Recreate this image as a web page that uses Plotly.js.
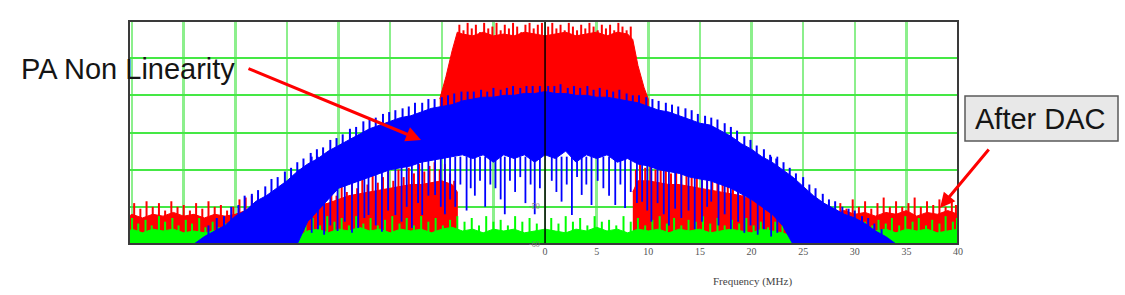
<!DOCTYPE html>
<html>
<head>
<meta charset="utf-8">
<script src="https://cdn.plot.ly/plotly-3.0.1.min.js"></script>
<style>html,body{margin:0;padding:0;background:#fff}#chart{width:1125px;height:295px}</style>
</head>
<body>
<div id="chart"></div>
<script>
// ---------- data (dB vs MHz) ----------
// Blue: PA output with non-linearity (body envelope + spikes)
const blueFreq = [-34,-33,-32,-31,-30,-29,-28,-27,-26,-25,-24,-23,-22,-21,-20,-19,-18,-17,-16,-15,-14,-13,-12,-11,-10,-9,-8,-7,-6,-5,-4,-3,-2,-1,0,1,2,3,4,5,6,7,8,9,10,11,12,13,14,15,16,17,18,19,20,21,22,23,24,25,26,27,28,29,30,31,32,33,34];
const blueUpper = [-60,-58,-56.5,-55,-52.5,-51,-48.5,-47,-45,-43,-40.5,-38.5,-37,-35,-33.5,-32,-30.5,-29,-28,-27,-26,-25.5,-24.5,-23.5,-23,-22.5,-21.5,-21,-20.5,-20.5,-20,-20,-19.5,-19.5,-19,-19.5,-19.5,-20,-20,-20.5,-20.5,-21,-21.5,-22,-23,-24,-24.5,-25.5,-26.5,-27.5,-28,-29.5,-31,-33,-34.5,-36.5,-38,-40,-42,-44.5,-47,-49,-50.5,-52,-53,-54.5,-56.5,-58,-60];
const blueLower = [-60,-60,-60,-60,-60,-60,-60,-60,-60,-60,-60,-54,-51,-48,-45,-44,-43,-42,-41,-40,-39.5,-39,-38,-37.5,-37,-36.5,-36,-37,-36,-38,-36,-37,-36,-38,-36,-37,-35,-38,-36,-37,-36,-38,-37,-38.5,-39,-40,-40.5,-41,-42,-42.5,-43,-44,-45,-46.5,-48,-50,-52,-55,-60,-60,-60,-60,-60,-60,-60,-60,-60,-60,-60];
const bluePeakFreq = [-32.6,-31.8,-31.1,-30.4,-29.7,-29.1,-28.4,-27.8,-27.1,-26.5,-25.9,-25.2,-24.6,-24.0,-23.4,-22.7,-22.1,-21.5,-20.8,-20.2,-19.6,-18.9,-18.3,-17.6,-17.0,-16.4,-15.7,-15.1,-14.5,-13.8,-13.2,-12.6,-11.9,-11.3,-10.7,-10.0,-9.4,-8.8,-8.1,-7.5,-6.9,-6.2,-5.6,-5.0,-4.3,-3.7,-3.1,-2.4,-1.8,-1.2,-0.5,
  0.3,0.9,1.5,2.2,2.8,3.4,4.1,4.7,5.3,6.0,6.6,7.2,7.9,8.5,9.1,9.8,10.4,11.0,11.7,12.3,12.9,13.6,14.2,14.8,15.5,16.1,16.7,17.4,18.0,18.6,19.3,19.9,20.5,21.2,21.8,22.4,23.1,23.7,24.3,25.0,25.6,26.2,26.9,27.5,28.1,28.8,29.4,30.0,30.7,31.3,31.9,32.6];
const bluePeakLevel = [-55,-53,-52.5,-50,-49.5,-47,-46.5,-45.5,-44.5,-42.5,-42,-40.5,-39.5,-38,-37,-35.5,-34.5,-34,-32,-31.5,-30.5,-29,-28.5,-27,-26.5,-26,-25,-24.5,-24,-23.5,-23,-22,-22,-21,-21,-20.5,-20,-19.5,-19,-19,-19,-18.5,-19,-18,-18.5,-18,-17.5,-18,-17.5,-17.5,-17.5,
  -17.5,-17.5,-17,-18,-17.5,-18,-17.5,-18.5,-18,-18.5,-19,-18.5,-19.5,-20,-20,-20.5,-21,-21.5,-22,-22.5,-23,-23.5,-24,-25,-25.5,-26,-26.5,-27.5,-28.5,-29.5,-31,-32,-33.5,-34.5,-36,-37,-38,-39.5,-41,-42,-44,-45,-46.5,-48,-48.5,-50,-50.5,-51,-52.5,-53,-54.5,-56];
const blueDipFreq = [-22.6,-22.0,-21.4,-20.8,-20.1,-19.4,-18.7,-18.1,-17.5,-17.1,-16.4,-15.8,-15.2,-14.5,-13.9,-13.4,-12.9,-12.3,-11.9,-11.3,-10.65,-10.1,-9.7,-9.2,
  -8.7,-8.2,-7.6,-7.2,-6.8,-6.3,-5.8,-5.3,-4.8,-4.3,-3.9,-3.4,-2.9,-2.4,-1.9,-1.4,-1.0,-0.5,0.65,1.1,1.6,2.1,2.6,3.1,3.55,4.0,4.5,5.1,5.65,6.2,6.8,7.3,7.75,8.3,
  8.9,9.4,9.9,10.3,10.9,11.5,12.0,12.6,13.2,13.9,14.5,15.2,15.7,16.1,16.8,17.4,18.0,18.7,19.3,19.9,20.6,21.2,21.9,22.5];
const blueDipLevel = [-57,-56,-57.5,-55,-56.5,-54,-57,-55.7,-53,-52.2,-55,-56.7,-51,-52.2,-54,-50,-55.7,-49,-52.2,-47,-46.8,-50,-52,-48,
  -50,-44,-51,-45,-47,-43,-50,-44,-45,-48,-52,-43,-46,-42,-49,-44,-52,-45,-43,-46,-48.6,-44,-52.2,-42,-46.8,-44,-49.5,-43,-45,-47,-49.5,-44,-50.3,-46,
  -49,-48.6,-51,-54,-49,-52,-55,-50.5,-53,-51,-56,-54,-50,-48.6,-55,-52,-56,-54,-57,-55,-57.5,-56,-58,-57];

// Red: signal after DAC (in-band block, out-of-band floor, spikes)
const redInFreq = [-10.2,-9.6,-9.0,-8.5,-8,-7,-6,-5,-4,-3,-2,-1,0,1,2,3,4,5,6,7,8,8.5,9.0,9.6,10.0];
const redInUpper = [-21,-15,-8,-3,-3.5,-4,-3,-4,-3.5,-4,-3,-3.5,-4,-3.5,-3,-4,-3.5,-3,-4,-3,-3.5,-5,-12,-18,-21];
const redInLower = [-30,-30,-30,-30,-30,-30,-30,-30,-30,-30,-30,-30,-30,-30,-30,-30,-30,-30,-30,-30,-30,-30,-30,-30,-30];
const redPeakFreq = [-8.3,-7.9,-7.5,-7.1,-6.7,-6.3,-5.9,-5.5,-5.1,-4.7,-4.3,-3.9,-3.5,-3.1,-2.7,-2.3,-1.9,-1.5,-1.1,-0.7,-0.3,0.3,0.7,1.1,1.5,1.9,2.3,2.7,3.1,3.5,3.9,4.3,4.7,5.1,5.5,5.9,6.3,6.7,7.1,7.5,7.9,8.3];
const redPeakLevel = [-1,-2.5,-0.5,-2,-1,-3,-0.5,-2,-1.5,-0.5,-2.5,-1,-2,-0.5,-1.5,-3,-1,-0.5,-2,-1,-0.5,-1.5,-0.5,-2,-1,-2.5,-0.5,-1.5,-2.5,-1,-2,-0.5,-1.5,-2.5,-1,-2,-1,-2.5,-0.5,-1.5,-2.5,-1.5];
const redLeftFreq = [-40.3,-40,-39,-38,-37,-36,-35,-34,-33,-32,-31,-30,-29,-28,-27,-26,-25,-24,-23,-22,-21,-20,-19,-18,-17,-16,-15,-14,-13,-12,-11,-10,-9,-8.5];
const redLeftUpper = [-52.5,-52,-53,-52,-52.5,-51.5,-52.5,-52,-53,-52,-52.5,-52,-51,-50.5,-52,-53,-53,-53,-52,-50,-49,-48,-47,-46.5,-46,-45.5,-45,-44.5,-44,-44,-43.5,-43,-44,-46];
const redRightFreq = [8.5,9,10,11,12,13,14,15,16,17,18,19,20,21,22,23,24,25,26,27,28,29,30,31,32,33,34,35,36,37,38,39,40];
const redRightUpper = [-46,-43,-43,-43.5,-44,-44,-44.5,-45,-45.5,-46,-46.5,-47,-48,-49,-50,-51,-52.5,-52.5,-52.5,-52,-51.5,-51,-52,-51.5,-52.5,-51.5,-52,-51,-52.5,-51.5,-52,-51,-52];
const redSpikeFreq = [-39.8,-39.2,-38.6,-38.0,-37.4,-36.8,-36.2,-35.6,-35.0,-34.4,-33.8,-33.2,-32.6,-32.0,-31.4,-30.8,-30.2,-29.6,-29.0,-28.4,
  -23.2,-22.7,-22.2,-21.7,-21.2,-20.7,-20.2,-19.7,-19.2,-18.7,-18.2,-17.7,-17.2,-16.7,-16.2,-15.7,-15.2,-14.7,-14.2,-13.7,-13.2,-12.7,-12.2,-11.7,-11.2,-10.7,-10.2,-9.7,-9.2,-8.8,
  8.8,9.2,9.7,10.2,10.7,11.2,11.7,12.2,12.7,13.2,13.7,14.2,14.7,15.2,15.7,16.2,16.7,17.2,17.7,18.2,18.7,19.2,19.7,20.2,20.7,21.2,21.7,22.2,22.7,23.2,
  28.6,29.2,29.8,30.4,31.0,31.6,32.2,32.8,33.4,34.0,34.6,35.2,35.8,36.4,37.0,37.6,38.2,38.8,39.4,39.8];
const redSpikeLevel = [-49,-50.5,-48.5,-50,-49,-51,-48.5,-50,-49.5,-51,-49,-50.5,-48.5,-50,-49.5,-51,-50,-48,-47.5,-47,
  -50,-48,-51,-47,-49,-45,-47,-44,-46,-43,-45,-42.5,-44,-41,-43.5,-42,-40.5,-43,-40,-42,-39.5,-41,-38.5,-40.5,-39,-38,-40,-38.5,-41,-43,
  -40,-37,-39.5,-38,-40,-37.5,-39,-41,-38.5,-40.5,-39,-42,-39.5,-41,-43,-40,-42.5,-41,-44,-42,-45,-43,-46,-44.5,-47,-45.5,-48,-47,-49,-48.5,
  -49,-50.5,-48,-50,-48.5,-50.5,-49,-47.5,-50,-48.5,-50,-49,-47.5,-50,-48.5,-49.5,-48,-50,-48.5,-49.5];

// Green: noise floor
const greenFreq = [-40.3,-40,-39,-38,-37,-36,-35,-34,-33,-32,-31,-30,-29,-28,-27,-26,-25,-24,-23,-22,-21,-20,-19,-18,-17,-16,-15,-14,-13,-12,-11,-10,-9,-8,-7,-6,-5,-4,-3,-2,-1,0,1,2,3,4,5,6,7,8,9,10,11,12,13,14,15,16,17,18,19,20,21,22,23,24,25,26,27,28,29,30,31,32,33,34,35,36,37,38,39,40];
const greenUpper = [-56.5,-56,-57,-56,-56.5,-56,-57,-56.5,-57,-56.5,-57,-57.5,-58,-58,-58,-58,-58,-58,
  -56.5,-56,-57,-56,-56.5,-55.5,-56.5,-56,-57,-56,-56.5,-56,-57,-56,-55.5,-56.5,-56,-57,-56,-56.5,-56,-57,-56.5,-56,-56.5,-57,-56,-56.5,-55.5,-56.5,-56,-57,-56,-56.5,-56,-57,-56,-56.5,-56,-57,-56.5,-56,-56.5,-57,-56,-56.5,-57,
  -58,-58,-58,-58,-58,-58,-58,-57,-56.5,-56,-57,-56,-56.5,-56,-57,-56.5,-56];
const greenSpikeFreq = [-40.0,-39.4,-38.7,-38.1,-37.4,-36.8,-36.1,-35.5,-34.8,-34.2,-33.5,-32.9,-32.2,-31.6,-30.9,-30.3,
  -23.2,-22.5,-21.8,-21.1,-20.4,-19.7,-19.0,-18.3,-17.6,-16.9,-16.2,-15.5,-14.8,-14.1,-13.4,-12.7,-12.0,-11.3,-10.6,-9.9,-9.2,-8.5,-7.8,-7.1,-6.4,-5.7,-5.0,-4.3,-3.6,-2.9,-2.2,-1.5,-0.8,
  0.6,1.3,2.0,2.7,3.4,4.1,4.8,5.5,6.2,6.9,7.6,8.3,9.0,9.7,10.4,11.1,11.8,12.5,13.2,13.9,14.6,15.3,16.0,16.7,17.4,18.1,18.8,19.5,20.2,20.9,21.6,22.3,23.0,
  30.4,31.0,31.7,32.3,33.0,33.6,34.3,34.9,35.6,36.2,36.9,37.5,38.2,38.8,39.5,39.9];
const greenSpikeLevel = [-53,-54.5,-53.5,-55,-52.5,-54,-53,-55,-53.5,-54.5,-53,-55.5,-54,-55.5,-54.5,-56,
  -54,-53,-55,-52.5,-54,-53,-55,-52.5,-54.5,-53,-55,-53.5,-52.5,-54.5,-53,-55,-52.5,-54,-53,-55,-53.5,-52.5,-54,-53,-55,-52.5,-54,-53.5,-55,-52.5,-54,-53,-54.5,
  -53,-54.5,-52.5,-54,-53,-55,-52.5,-54,-53.5,-55,-52.5,-54,-53,-55,-53.5,-52.5,-54.5,-53,-55,-53.5,-54,-52.5,-54.5,-53,-55,-53.5,-54.5,-53,-55,-54,-55.5,-54,-55,
  -55.5,-54,-55,-53.5,-54.5,-53,-55,-52.5,-54,-53,-55,-53.5,-54.5,-52.5,-54,-53];

const xTickVals = [-40,-35,-30,-25,-20,-15,-10,-5,0,5,10,15,20,25,30,35,40];
const xTickText = ['','','','','','','','','0','5','10','15','20','25','30','35','40'];
const yTickVals = [-60,-50,-40,-30,-20,-10,0];

// ---------- helpers ----------
function band(xs, hi, lo, color, fillcolor) {
  return {
    type: 'scatter', mode: 'lines',
    x: xs.concat(xs.slice().reverse()),
    y: hi.concat(lo.slice().reverse()),
    fill: 'toself', fillcolor: fillcolor,
    line: {color: color, width: 1},
    hoverinfo: 'skip', showlegend: false
  };
}
function spikes(fs, lv, base, color, width) {
  const x = [], y = [];
  fs.forEach((f, i) => { x.push(f, f, null); y.push(base(lv[i]), lv[i], null); });
  return {type: 'scatter', mode: 'lines', x: x, y: y, line: {color: color, width: width},
          hoverinfo: 'skip', showlegend: false, connectgaps: false};
}
const floorOf = arr => arr.map(() => -60);

const traces = [
  band(redLeftFreq, redLeftUpper, floorOf(redLeftFreq), '#ff0000', '#ff0000'),
  band(redRightFreq, redRightUpper, floorOf(redRightFreq), '#ff0000', '#ff0000'),
  spikes(redSpikeFreq, redSpikeLevel, () => -54, '#ff0000', 2),
  band(redInFreq, redInUpper, redInLower, '#ff0000', '#ff0000'),
  spikes(redPeakFreq, redPeakLevel, () => -6, '#ff0000', 2),
  band(greenFreq, greenUpper, floorOf(greenFreq), '#00ff00', '#00ff00'),
  spikes(greenSpikeFreq, greenSpikeLevel, () => -58, '#00ff00', 2),
  band(blueFreq, blueUpper, blueLower, '#0000ff', '#0000ff'),
  spikes(bluePeakFreq, bluePeakLevel, v => v - 4.5, '#0000ff', 2),
  spikes(blueDipFreq, blueDipLevel, () => -36.5, '#0000ff', 1.8)
];

const L = 129, R = 958, T = 21, B = 244;
const px = v => (v - L) / (R - L);
const py = v => (B - v) / (B - T);

const layout = {
  width: 1125, height: 295,
  margin: {l: L, r: 1125 - R, t: T, b: 295 - B},
  paper_bgcolor: '#ffffff', plot_bgcolor: '#ffffff',
  showlegend: false,
  xaxis: {
    range: [-40.3, 40], tickvals: xTickVals, ticktext: xTickText,
    showgrid: true, gridcolor: '#8cef8c', gridwidth: 2.5,
    zeroline: false, showline: false, ticks: '',
    tickfont: {family: 'Liberation Serif', size: 10, color: '#555'},
    fixedrange: true
  },
  yaxis: {
    range: [-60, 0], tickvals: yTickVals, showticklabels: false,
    showgrid: true, gridcolor: '#45e845', gridwidth: 2,
    zeroline: false, showline: false, ticks: '', fixedrange: true
  },
  shapes: [
    {type: 'line', xref: 'x', yref: 'paper', x0: 0, x1: 0, y0: 0, y1: 1, line: {color: '#000', width: 1.5}, layer: 'above'},
    {type: 'rect', xref: 'paper', yref: 'paper', x0: 0, x1: 1, y0: 0, y1: 1, line: {color: '#3a3a3a', width: 2}, layer: 'above'},
    {type: 'rect', xref: 'paper', yref: 'paper', x0: px(965), x1: px(1118), y0: py(141), y1: py(96), fillcolor: '#e8e8e8', line: {color: '#5a5a5a', width: 1.5}, layer: 'above'}
  ],
  annotations: [
    {xref: 'paper', yref: 'paper', x: px(127.5), y: py(69), text: 'PA Non Linearity', showarrow: false, xanchor: 'center', yanchor: 'middle', font: {family: 'Liberation Sans', size: 29, color: '#151515'}},
    {xref: 'paper', yref: 'paper', x: px(421), y: py(140), text: '', showarrow: true, ax: -174, ay: -72, arrowcolor: '#ff0000', arrowwidth: 3, arrowhead: 2, arrowsize: 1},
    {xref: 'paper', yref: 'paper', x: px(1040), y: py(118.5), text: 'After DAC', showarrow: false, xanchor: 'center', yanchor: 'middle', font: {family: 'Liberation Sans', size: 29, color: '#151515'}},
    {xref: 'paper', yref: 'paper', x: px(940), y: py(208), text: '', showarrow: true, ax: 50, ay: -60, arrowcolor: '#ff0000', arrowwidth: 3, arrowhead: 2, arrowsize: 1},
    {xref: 'paper', yref: 'paper', x: px(752), y: py(281), text: 'Frequency (MHz)', showarrow: false, xanchor: 'center', yanchor: 'middle', font: {family: 'Liberation Serif', size: 11, color: '#444'}},
    {xref: 'x', yref: 'y', x: -0.3, y: -50, text: '-50', showarrow: false, xanchor: 'right', yanchor: 'middle', font: {family: 'Liberation Serif', size: 8, color: '#777'}},
    {xref: 'x', yref: 'y', x: -0.3, y: -60, text: '-60', showarrow: false, xanchor: 'right', yanchor: 'middle', font: {family: 'Liberation Serif', size: 8, color: '#777'}}
  ]
};

Plotly.newPlot('chart', traces, layout, {staticPlot: true, displayModeBar: false});
</script>
</body>
</html>
